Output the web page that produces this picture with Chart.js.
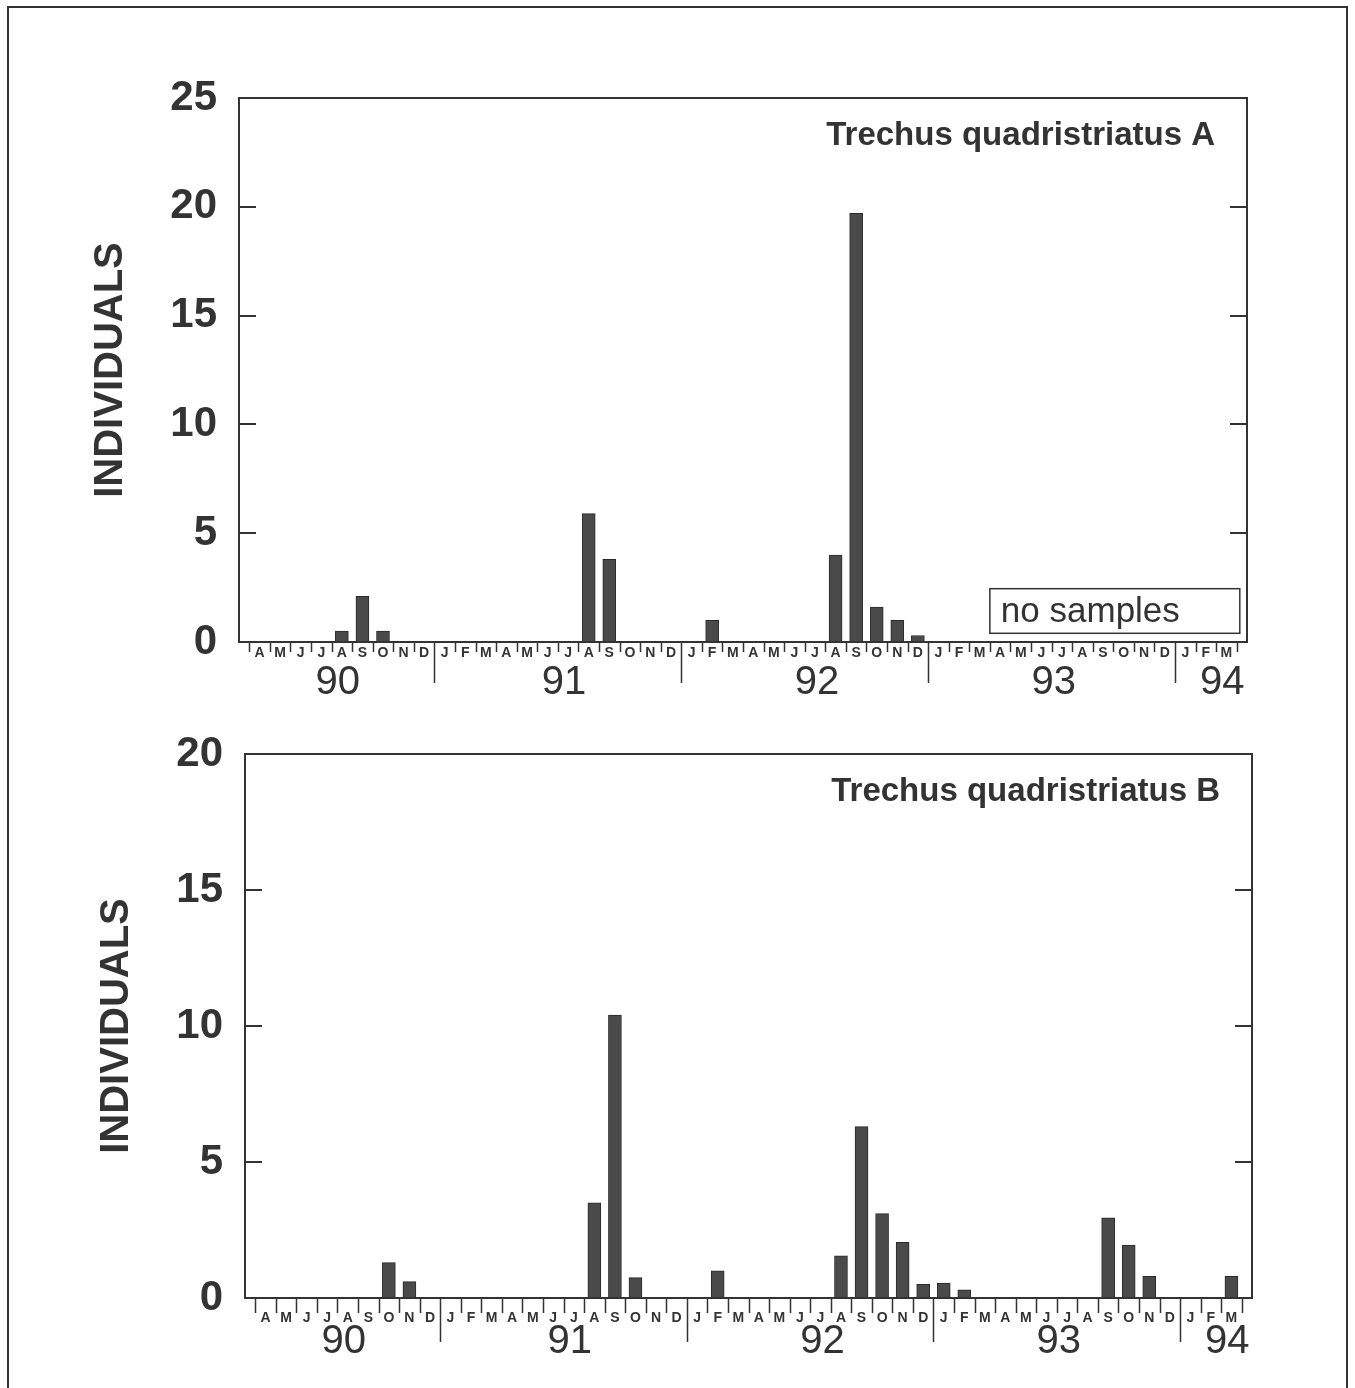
<!DOCTYPE html>
<html>
<head>
<meta charset="utf-8">
<script src="https://cdn.jsdelivr.net/npm/chart.js@4.4.1/dist/chart.umd.min.js"></script>
<style>
  html, body { margin: 0; padding: 0; background: #fff; }
  body { width: 1355px; height: 1388px; position: relative; overflow: hidden; }
  #frame { position: absolute; left: 7px; top: 6px; width: 1341px; height: 1400px;
           border: 2px solid #333; box-sizing: border-box; }
  canvas { position: absolute; left: 0; }
  #chartA { top: 0; }
  #chartB { top: 700px; }
</style>
</head>
<body>
<div id="frame"></div>
<canvas id="chartA" width="1355" height="700"></canvas>
<canvas id="chartB" width="1355" height="688"></canvas>
<script>
// months from April 1990 to March 1994
const months = ['A','M','J','J','A','S','O','N','D',
  'J','F','M','A','M','J','J','A','S','O','N','D',
  'J','F','M','A','M','J','J','A','S','O','N','D',
  'J','F','M','A','M','J','J','A','S','O','N','D',
  'J','F','M'];
const years = ['90', '91', '92', '93', '94'];
const yearLabelAt = [3.8, 14.8, 27.1, 38.6, 46.8];   // month index under each year label
const yearStarts = [9, 21, 33, 45];                   // index of each January

// Trechus quadristriatus A (null = no samples)
const valuesA = [0, 0, 0, 0, 0.5, 2.1, 0.5, 0, 0,
  0, 0, 0, 0, 0, 0, 0, 5.9, 3.8, 0, 0, 0,
  0, 1.0, 0, 0, 0, 0, 0, 4.0, 19.7, 1.6, 1.0, 0.3,
  0, 0, 0, null, null, null, null, null, null, null, null, null,
  null, null, null];
const noSamplesA = [36, 47];

// Trechus quadristriatus B
const valuesB = [0, 0, 0, 0, 0, 0, 1.3, 0.6, 0,
  0, 0, 0, 0, 0, 0, 0, 3.5, 10.4, 0.75, 0, 0,
  0, 1.0, 0, 0, 0, 0, 0, 1.55, 6.3, 3.1, 2.05, 0.5,
  0.55, 0.3, 0, 0, 0, 0, 0, 0, 2.95, 1.95, 0.8, 0,
  0, 0, 0.8];

const ink = '#333';
const FONT = "'Liberation Sans', Arial, sans-serif";

const decor = {
  id: 'decor',
  afterDraw(chart, args, o) {
    const ctx = chart.ctx;
    const a = chart.chartArea;
    const x = chart.scales.x, y = chart.scales.y;
    ctx.save();
    ctx.strokeStyle = ink;
    ctx.fillStyle = ink;
    ctx.lineWidth = 2;
    ctx.strokeRect(a.left, a.top, a.right - a.left, a.bottom - a.top);

    // inward y ticks on both sides
    ctx.beginPath();
    y.ticks.forEach(t => {
      if (t.value <= y.min || t.value >= y.max) return;
      const py = Math.round(y.getPixelForValue(t.value));
      ctx.moveTo(a.left, py); ctx.lineTo(a.left + 17, py);
      ctx.moveTo(a.right, py); ctx.lineTo(a.right - 17, py);
    });
    ctx.stroke();

    // month ticks
    ctx.lineWidth = 1.5;
    ctx.beginPath();
    for (let i = 0; i <= months.length; i++) {
      const px = Math.round(x.getPixelForValue(i - 0.5)) + 0.5;
      const len = yearStarts.includes(i) ? o.yearTick : o.tick;
      ctx.moveTo(px, a.bottom); ctx.lineTo(px, a.bottom + len);
    }
    ctx.stroke();

    ctx.textAlign = 'center';
    ctx.textBaseline = 'middle';
    ctx.font = 'bold 14px ' + FONT;
    months.forEach((m, i) => ctx.fillText(m, x.getPixelForValue(i), a.bottom + o.monthDy));
    ctx.font = '40px ' + FONT;
    years.forEach((yr, i) => ctx.fillText(yr, x.getPixelForValue(yearLabelAt[i]), a.bottom + o.yearDy));

    // axis title
    ctx.save();
    ctx.translate(a.left - 128, (a.top + a.bottom) / 2);
    ctx.rotate(-Math.PI / 2);
    ctx.font = 'bold 40px ' + FONT;
    ctx.fillText('INDIVIDUALS', 0, 0);
    ctx.restore();

    // species title
    ctx.textAlign = 'right';
    ctx.font = 'bold 33px ' + FONT;
    ctx.fillText(o.title, a.right - 32, a.top + 38);

    if (o.noSamples) {
      const x0 = x.getPixelForValue(o.noSamples[0] - 0.5);
      const x1 = x.getPixelForValue(o.noSamples[1] + 0.65);
      const y0 = y.getPixelForValue(2.45), y1 = y.getPixelForValue(0.4);
      ctx.lineWidth = 1.5;
      ctx.strokeRect(x0, y0, x1 - x0, y1 - y0);
      ctx.textAlign = 'left';
      ctx.font = '35px ' + FONT;
      ctx.fillText('no samples', x0 + 11, (y0 + y1) / 2 + 1);
    }
    ctx.restore();
  }
};

function makeChart(id, values, yMax, axisWidth, pad, extra) {
  return new Chart(document.getElementById(id), {
    type: 'bar',
    data: {
      datasets: [{
        data: values.map((v, i) => ({ x: i, y: v })),
        backgroundColor: '#4a4a4a',
        borderColor: '#2a2a2a',
        borderWidth: 1,
        barThickness: 13
      }]
    },
    options: {
      responsive: false,
      animation: false,
      devicePixelRatio: 1,
      layout: { padding: pad },
      plugins: { legend: { display: false }, tooltip: { enabled: false }, decor: extra },
      scales: {
        x: { type: 'linear', min: -1, max: 48, offset: false, display: false },
        y: {
          min: 0, max: yMax,
          ticks: { stepSize: 5, padding: 22, color: ink, font: { family: FONT, size: 42, weight: 'bold' } },
          grid: { display: false, drawTicks: false },
          border: { display: false },
          afterFit: s => { s.width = axisWidth; }
        }
      }
    },
    plugins: [decor]
  });
}

makeChart('chartA', valuesA, 25, 239, { left: 0, top: 98, right: 108, bottom: 58 },
  { title: 'Trechus quadristriatus A', tick: 10, yearTick: 41, monthDy: 11, yearDy: 41, noSamples: noSamplesA });
makeChart('chartB', valuesB, 20, 245, { left: 0, top: 54, right: 103, bottom: 90 },
  { title: 'Trechus quadristriatus B', tick: 15, yearTick: 44, monthDy: 20, yearDy: 44 });
</script>
</body>
</html>
